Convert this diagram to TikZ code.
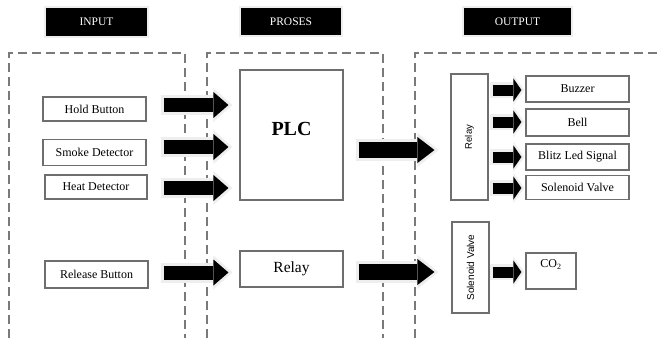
\documentclass[tikz,border=0pt]{standalone}
\usepackage{fontspec}
\setmainfont{Liberation Serif}
\newfontfamily\arialfont{Liberation Sans}
\usetikzlibrary{arrows.meta,calc}
\definecolor{boxgray}{HTML}{6E6E6E}
\definecolor{dashgray}{HTML}{7A7A7A}
\definecolor{glow}{HTML}{EEEEEE}
\pgfdeclarelayer{regions}
\pgfdeclarelayer{arrows}
\pgfsetlayers{regions,arrows,main}
\begin{document}
\begin{tikzpicture}[x=1pt,y=-1pt,
  box/.style={draw=boxgray, line width=1.1pt, fill=white, inner sep=0pt,
    font=\fontsize{12}{14}\selectfont},
  header/.style={draw=glow, line width=1.5pt, fill=black, text=white, inner sep=0pt,
    font=\fontsize{11.5}{13}\selectfont},
  region/.style={draw=dashgray, line width=1.2pt, dash pattern=on 9pt off 5pt},
  bigarrow/.style={line width=14pt, -{Triangle[length=15pt,width=26pt,line width=0pt]},
    preaction={draw=glow, line width=20pt, shorten >=-4pt, shorten <=-3pt,
      -{Triangle[length=19pt,width=34pt,line width=0pt]}}},
  midarrow/.style={line width=16pt, -{Triangle[length=17pt,width=26pt,line width=0pt]},
    preaction={draw=glow, line width=22pt, shorten >=-4pt, shorten <=-3pt,
      -{Triangle[length=21pt,width=34pt,line width=0pt]}}},
  smallarrow/.style={line width=11pt, -{Triangle[length=8pt,width=23pt,line width=0pt]},
    preaction={draw=glow, line width=16pt, shorten >=-3pt, shorten <=-3pt,
      -{Triangle[length=11pt,width=30pt,line width=0pt]}}},
]
\useasboundingbox (0,0) rectangle (658,338);

% column headers
\node[header, minimum width=103pt, minimum height=30pt] (hin)  at (96.5,22)  {INPUT};
\node[header, minimum width=102pt, minimum height=29pt] (hpro) at (291,21.5) {PROSES};
\node[header, minimum width=109pt, minimum height=29pt] (hout) at (517.5,21.5) {OUTPUT};

% dashed regions (open towards the page edges)
\begin{pgfonlayer}{regions}
\fill[white] (0,0) rectangle (658,338);
\draw[region] (9,338) -- (9,53) -- (185,53) -- (185,338);
\draw[region] (207,338) -- (207,53) -- (383,53) -- (383,338);
\draw[region] (415,338) -- (415,53) -- (658,53);
\end{pgfonlayer}

% inputs
\node[box, minimum width=103pt, minimum height=24pt] (hold)    at (94.5,109)   {Hold Button};
\node[box, minimum width=103pt, minimum height=26pt] (smoke)   at (94.5,152.5) {Smoke Detector};
\node[box, minimum width=102pt, minimum height=24pt] (heat)    at (96,187)     {Heat Detector};
\node[box, minimum width=103pt, minimum height=27pt] (release) at (96.5,274.5) {Release Button};

% process
\node[box, minimum width=103pt, minimum height=130pt] (plc) at (291.5,135) {};
\node[font=\fontsize{20}{22}\selectfont\bfseries] (plctext) at ($(plc.center)+(0,-6)$) {PLC};
\node[box, minimum width=103pt, minimum height=36pt, font=\fontsize{15.5}{17}\selectfont] (relayp) at (291.5,269) {Relay};

% outputs
\node[box, minimum width=37pt, minimum height=126pt, font=\arialfont\fontsize{9.5}{11}\selectfont] (relayo) at (469.5,137) {\rotatebox{90}{Relay}};
\node[box, minimum width=37pt, minimum height=91pt, font=\arialfont\fontsize{10}{12}\selectfont] (solo) at (470.5,267.5) {\rotatebox{90}{Solenoid Valve}};

\node[box, minimum width=103pt, minimum height=26pt] (buzzer) at (577.5,89)    {Buzzer};
\node[box, minimum width=103pt, minimum height=27pt] (bell)   at (577.5,122.5) {Bell};
\node[box, minimum width=103pt, minimum height=26pt] (blitz)  at (577.5,157)   {Blitz Led Signal};
\node[box, minimum width=103pt, minimum height=24pt] (solv)   at (577.5,187.5) {Solenoid Valve};
\node[box, minimum width=50pt,  minimum height=36pt] (co2)    at (551,271)     {};
\node[font=\fontsize{12}{14}\selectfont] (co2text) at ($(co2.north)+(0,12)$) {CO\textsubscript{2}};

\begin{pgfonlayer}{arrows}
% input -> PLC / relay
\draw[bigarrow] ($(hold.east)+(17,-4)$)      -- ($(plc.west|-hold.east)+(-11,-4)$);
\draw[bigarrow] ($(smoke.east)+(17,-5.5)$)   -- ($(plc.west|-smoke.east)+(-11,-5.5)$);
\draw[bigarrow] ($(heat.east)+(16,1)$)       -- ($(plc.west|-heat.east)+(-11,1)$);
\draw[bigarrow] ($(release.east)+(15,-2)$)   -- ($(relayp.west|-release.east)+(-11,-2)$);

% process -> output
\draw[midarrow] ($(plc.east)+(15,15)$)    -- ($(relayo.west|-plc.east)+(-16,15)$);
\draw[midarrow] ($(relayp.east)+(15,3)$)  -- ($(solo.west|-relayp.east)+(-17,3)$);

% relay -> devices
\draw[smallarrow] ($(relayo.east|-buzzer.west)+(4,1)$)  -- ($(buzzer.west)+(-4,1)$);
\draw[smallarrow] ($(relayo.east|-bell.west)+(4,-0.5)$) -- ($(bell.west)+(-4,-0.5)$);
\draw[smallarrow] ($(relayo.east|-blitz.west)+(4,0)$)   -- ($(blitz.west)+(-4,0)$);
\draw[smallarrow] ($(relayo.east|-solv.west)+(4,0.5)$)  -- ($(solv.west)+(-4,0.5)$);
\draw[smallarrow] ($(solo.east|-co2.west)+(3,1)$)       -- ($(co2.west)+(-4,1)$);
\end{pgfonlayer}
\end{tikzpicture}
\end{document}
